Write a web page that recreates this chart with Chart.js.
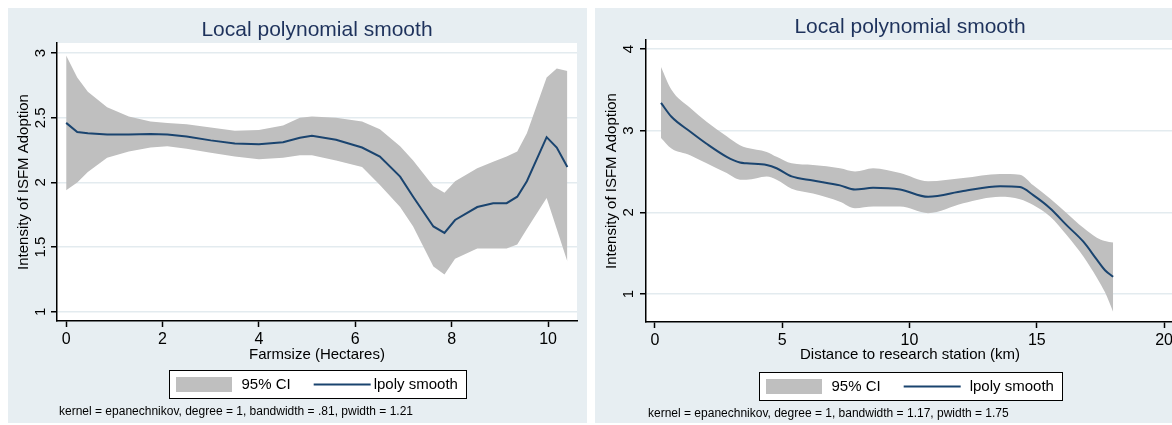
<!DOCTYPE html>
<html><head><meta charset="utf-8">
<script src="https://cdn.jsdelivr.net/npm/chart.js@4.4.1/dist/chart.umd.min.js"></script>
<style>
html,body{margin:0;padding:0;background:#fff;}
body{width:1172px;height:425px;overflow:hidden;position:relative;}
.panel{position:absolute;top:8px;height:415px;}
#p1{left:8px;width:579px;}
#p2{left:595px;width:589px;}
canvas{display:block;}
</style></head><body>
<div class="panel" id="p1"><canvas id="c1" width="579" height="415"></canvas></div>
<div class="panel" id="p2"><canvas id="c2" width="589" height="415"></canvas></div>
<script>
// ---- Data: left panel (farm size) ----
const farmX     = [0, 0.23, 0.45, 0.85, 1.3, 1.75, 2.1, 2.5, 3.0, 3.5, 4.0, 4.5, 4.85, 5.1, 5.6, 6.14, 6.51, 6.93, 7.2, 7.62, 7.85, 8.07, 8.53, 8.86, 9.14, 9.36, 9.56, 9.97, 10.18, 10.4];
const farmFit   = [2.46, 2.39, 2.38, 2.37, 2.37, 2.375, 2.37, 2.355, 2.325, 2.30, 2.295, 2.31, 2.345, 2.36, 2.33, 2.27, 2.20, 2.045, 1.89, 1.66, 1.61, 1.71, 1.81, 1.84, 1.84, 1.89, 2.01, 2.35, 2.27, 2.12];
const farmUpper = [2.98, 2.81, 2.70, 2.58, 2.51, 2.47, 2.46, 2.45, 2.425, 2.40, 2.405, 2.44, 2.50, 2.51, 2.50, 2.47, 2.41, 2.28, 2.17, 1.97, 1.92, 2.01, 2.11, 2.16, 2.20, 2.24, 2.38, 2.81, 2.88, 2.86];
const farmLower = [1.94, 2.00, 2.08, 2.19, 2.24, 2.27, 2.28, 2.26, 2.23, 2.20, 2.18, 2.19, 2.21, 2.21, 2.17, 2.12, 1.98, 1.81, 1.66, 1.35, 1.29, 1.41, 1.49, 1.49, 1.49, 1.52, 1.64, 1.88, 1.64, 1.39];
const farmXTicks = [0, 2, 4, 6, 8, 10];
const farmYTicks = [1, 1.5, 2, 2.5, 3];

// ---- Data: right panel (distance) ----
const distX     = [0.24, 0.65, 1.38, 2.03, 2.82, 3.34, 3.6, 4.39, 4.78, 5.37, 6.21, 7.27, 7.86, 8.57, 9.63, 10.73, 12.11, 13.56, 14.34, 14.86, 15.52, 16.18, 16.83, 17.36, 17.68, 18.0];
const distFit   = [3.34, 3.17, 2.99, 2.84, 2.68, 2.61, 2.60, 2.58, 2.54, 2.44, 2.39, 2.33, 2.28, 2.30, 2.28, 2.19, 2.26, 2.32, 2.31, 2.21, 2.05, 1.84, 1.64, 1.42, 1.29, 1.21];
const distUpper = [3.78, 3.50, 3.28, 3.11, 2.93, 2.82, 2.79, 2.74, 2.68, 2.60, 2.58, 2.54, 2.50, 2.54, 2.48, 2.38, 2.42, 2.47, 2.46, 2.33, 2.17, 1.99, 1.81, 1.69, 1.65, 1.63];
const distLower = [2.91, 2.78, 2.70, 2.60, 2.48, 2.40, 2.40, 2.44, 2.40, 2.29, 2.23, 2.13, 2.05, 2.07, 2.07, 1.99, 2.11, 2.19, 2.16, 2.09, 1.95, 1.72, 1.46, 1.20, 1.02, 0.78];
const distXTicks = [0, 5, 10, 15, 20];
const distYTicks = [1, 2, 3, 4];

// ---- Text ----
const chartTitle = 'Local polynomial smooth';
const yAxisTitle = 'Intensity of ISFM Adoption';
const farmXTitle = 'Farmsize (Hectares)';
const distXTitle = 'Distance to research station (km)';
const legendLabels = ['95% CI', 'lpoly smooth'];
const farmNote = 'kernel = epanechnikov, degree = 1, bandwidth = .81, pwidth = 1.21';
const distNote = 'kernel = epanechnikov, degree = 1, bandwidth = 1.17, pwidth = 1.75';

// ---- Style ----
const FONT = '"Liberation Sans", Arial, Helvetica, sans-serif';
const PANEL = '#e7eef2';
const GRID = '#e3ebef';
const CI = '#bfbfbf';
const NAVY = '#1a446f';
const TITLE = '#1e325c';

Chart.defaults.font.family = FONT;
Chart.defaults.color = '#000';

const decor = {
  id: 'stataDecor',
  beforeDraw(chart, args, o) {
    const {ctx, chartArea: a, width, height} = chart;
    ctx.save();
    ctx.fillStyle = PANEL; ctx.fillRect(0, 0, width, height);
    ctx.fillStyle = '#fff'; ctx.fillRect(a.left, a.top, a.right - a.left, a.bottom - a.top);
    ctx.restore();
  },
  afterDraw(chart, args, o) {
    const {ctx, chartArea: a} = chart;
    const cx = (a.left + a.right) / 2;
    ctx.save();
    // title
    ctx.font = '21px ' + FONT;
    ctx.fillStyle = TITLE; ctx.textAlign = 'center'; ctx.textBaseline = 'alphabetic';
    ctx.fillText(o.title, cx, o.titleY);
    // legend
    ctx.font = '15px ' + FONT;
    const w1 = ctx.measureText(o.labels[0]).width, w2 = ctx.measureText(o.labels[1]).width;
    const boxW = Math.round(7 + 56 + 9 + w1 + 23 + 57 + o.gap + w2 + 9);
    const L = Math.round(cx - boxW / 2) + 0.5, T = o.legendTop + 0.5, H = 28;
    ctx.fillStyle = '#fff'; ctx.fillRect(L, T, boxW, H);
    ctx.strokeStyle = '#000'; ctx.lineWidth = 1; ctx.strokeRect(L, T, boxW, H);
    ctx.fillStyle = CI; ctx.fillRect(L + 6.5, T + 6.5, 56, 15);
    const my = T + H / 2;
    ctx.fillStyle = '#000'; ctx.textAlign = 'left'; ctx.textBaseline = 'middle';
    ctx.fillText(o.labels[0], L + 72, my);
    const lx = L + 72 + w1 + 23;
    ctx.strokeStyle = NAVY; ctx.lineWidth = 2;
    ctx.beginPath(); ctx.moveTo(lx, my); ctx.lineTo(lx + 57, my); ctx.stroke();
    ctx.fillText(o.labels[1], lx + 57 + o.gap, my);
    // note
    ctx.font = '12px ' + FONT;
    ctx.fillText(o.note, a.left + 2, o.noteY);
    ctx.restore();
  }
};

function pts(xs, ys) { return xs.map((x, i) => ({x: x, y: ys[i]})); }

function makeChart(id, c) {
  return new Chart(document.getElementById(id), {
    type: 'line',
    data: {
      datasets: [
        {label: legendLabels[1], data: pts(c.x, c.fit), borderColor: NAVY, borderWidth: 2, pointRadius: 0, fill: false, tension: 0, cubicInterpolationMode: c.cubic},
        {label: legendLabels[0], data: pts(c.x, c.upper), borderColor: 'rgba(0,0,0,0)', borderWidth: 0, backgroundColor: CI, pointRadius: 0, fill: '+1', cubicInterpolationMode: c.cubic},
        {label: legendLabels[0] + ' lower', data: pts(c.x, c.lower), borderColor: 'rgba(0,0,0,0)', borderWidth: 0, backgroundColor: CI, pointRadius: 0, fill: false, cubicInterpolationMode: c.cubic}
      ]
    },
    options: {
      responsive: false, animation: false, devicePixelRatio: 1,
      layout: {padding: {left: 0, right: c.padRight, top: c.padTop, bottom: c.padBottom}},
      plugins: {
        legend: {display: false}, tooltip: {enabled: false},
        filler: {drawTime: 'beforeDatasetsDraw'},
        stataDecor: {title: chartTitle, titleY: c.titleY, labels: legendLabels, gap: c.gap, legendTop: c.legendTop, note: c.note, noteY: c.noteY}
      },
      scales: {
        x: {
          type: 'linear', position: 'bottom', min: c.xMin, max: c.xMax,
          afterBuildTicks: s => { s.ticks = c.xTicks.map(v => ({value: v})); },
          afterFit: s => { s.height = c.xAxisH; },
          ticks: {font: {size: 16}, color: '#000', padding: 3, maxRotation: 0, autoSkip: false, callback: v => String(v)},
          grid: {display: true, drawOnChartArea: false, drawTicks: true, tickLength: 6, tickColor: '#000', tickWidth: 1.5},
          border: {display: true, color: '#000', width: 1.5},
          title: {display: true, text: c.xTitle, font: {size: 15}, color: '#000', padding: {top: 0, bottom: 0}}
        },
        y: {
          type: 'linear', position: 'left', min: c.yMin, max: c.yMax,
          afterBuildTicks: s => { s.ticks = c.yTicks.map(v => ({value: v})); },
          afterFit: s => { s.width = c.yAxisW; },
          ticks: {font: {size: 15}, color: '#000', padding: c.yTickPad, minRotation: 90, maxRotation: 90, crossAlign: 'center', autoSkip: false, callback: v => String(v)},
          grid: {color: GRID, lineWidth: 1.5, tickLength: 6, tickColor: '#000', tickWidth: 1.5},
          border: {display: true, color: '#000', width: 1.5},
          title: {display: true, text: yAxisTitle, font: {size: 15}, color: '#000', padding: {top: c.yTitlePad, bottom: 0}}
        }
      }
    },
    plugins: [decor]
  });
}

makeChart('c1', {
  x: farmX, fit: farmFit, upper: farmUpper, lower: farmLower, cubic: 'default',
  xTicks: farmXTicks, yTicks: farmYTicks, xMin: -0.19, xMax: 10.6, yMin: 0.93, yMax: 3.077,
  padRight: 10, padTop: 35, padBottom: 59, xAxisH: 43, yAxisW: 49, yTickPad: 0, yTitlePad: 7,
  xTitle: farmXTitle, titleY: 28, gap: 3, legendTop: 362, note: farmNote, noteY: 404
});
makeChart('c2', {
  x: distX, fit: distFit, upper: distUpper, lower: distLower, cubic: 'monotone',
  xTicks: distXTicks, yTicks: distYTicks, xMin: -0.35, xMax: 20.39, yMin: 0.657, yMax: 4.11,
  padRight: 10, padTop: 32, padBottom: 59, xAxisH: 42, yAxisW: 51, yTickPad: 7, yTitlePad: 8,
  xTitle: distXTitle, titleY: 25, gap: 9, legendTop: 364, note: distNote, noteY: 406
});
</script>
</body></html>
